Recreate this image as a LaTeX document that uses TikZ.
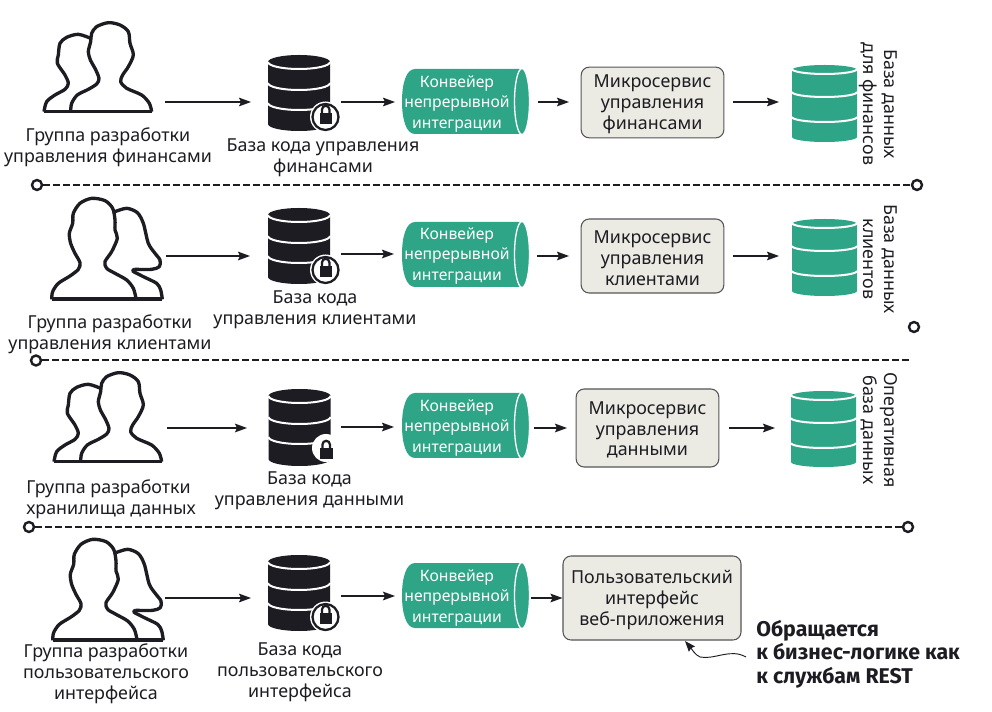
\documentclass[tikz,border=0pt]{standalone}
\usepackage{fontspec}
\setmainfont{Noto Sans}
\newfontfamily\calloutfont{Fira Sans}
\usetikzlibrary{arrows.meta,shapes.geometric}
\definecolor{tealc}{HTML}{2DA586}
\definecolor{boxc}{HTML}{EBEAE3}
\definecolor{inkc}{HTML}{1C1C22}
\newcommand{\menicon}[2]{%
\begin{scope}[shift={(#1,#2)}]
\begin{scope}[x=0.25pt,y=-0.25pt,line width=2.5pt,draw=inkc,line join=round]
\draw plot[smooth,tension=.5] coordinates {(212,335)(215,310)(232,285)(265,268)(290,252)(297,235)(285,205)(272,182)(265,155)(272,125)(275,100)(290,80)(325,68)(360,75)(385,95)(390,130)(400,165)(385,200)(368,225)(362,245)(380,265)(425,285)(448,310)(455,335)};
\draw plot[smooth,tension=.5] coordinates {(132,335)(140,305)(165,285)(195,268)(205,250)(195,225)(172,190)(175,165)(180,130)(200,112)(235,103)(272,115)};
\draw (132,335)--(455,335);
\end{scope}\end{scope}}
\newcommand{\womanicon}[2]{%
\begin{scope}[shift={(#1,#2)}]
\begin{scope}[x=0.25pt,y=-0.25pt,line width=2.5pt,draw=inkc,line join=round]
\draw plot[smooth,tension=.5] coordinates {(155,328)(158,305)(175,280)(210,258)(235,238)(240,218)(225,190)(212,160)(208,130)(218,100)(220,70)(240,40)(275,25)(315,32)(338,55)(345,90)(345,120)(352,145)(335,185)(315,215)(320,235)(345,250)(380,270)(400,295)(408,325)};
\draw plot[smooth,tension=.5] coordinates {(345,65)(380,55)(412,68)(430,100)(445,160)(465,190)(480,210)(478,230)(455,238)(405,238)};
\draw plot[smooth,tension=.5] coordinates {(405,238)(398,243)(430,260)(470,280)(482,300)(487,328)};
\draw[line width=3pt] (155,328)--(487,328);
\end{scope}\end{scope}}
% x centre, y top, half width, height, colour, cap radius, band offsets, extra
\newcommand{\dbstack}[8]{%
\begin{scope}[shift={(#1,#2)}]
\fill[#5] (-#3,#6) arc[x radius=#3,y radius=#6,start angle=180,end angle=360] -- (#3,{#4-#6}) arc[x radius=#3,y radius=#6,start angle=0,end angle=180] -- cycle;
\foreach \yy in {#7}{
\draw[white,line width=1.5pt] (-#3,\yy) arc[x radius=#3,y radius=#6,start angle=180,end angle=0];}
#8
\end{scope}}
\newcommand{\lockbody}{%
\fill[inkc] (20.5,62) rectangle (33,73);
\draw[inkc,line width=1.7pt] (23,62) -- (23,58.5) arc[radius=3.7,start angle=180,end angle=360] -- (30.5,62);}
\newcommand{\lockmark}{%
\fill[white] (26.5,62) circle (15.5);
\fill[white,draw=inkc,line width=1.7pt] (26.5,62) circle (13);
\begin{scope}[shift={(0,-4)}]\lockbody\end{scope}}
\newcommand{\lockbare}{%
\begin{scope}[shift={(0,-3)}]
\fill[white] (26.5,62) circle (14);\lockbody
\end{scope}}
\newcommand{\pipe}[2]{%
\begin{scope}[shift={(#1,#2)}]
\fill[tealc] (13,0) -- (120,0) -- (120,65) -- (13,65) .. controls (4,65) and (0,50) .. (0,32.5) .. controls (0,15) and (4,0) .. (13,0) -- cycle;
\fill[tealc,draw=white,line width=1pt] (120,32.5) ellipse (7.5 and 33);
\end{scope}}
\tikzset{
 lbl/.style={font=\fontsize{13.4pt}{15.6pt}\selectfont,text=inkc,align=center,inner sep=0pt},
 mlbl/.style={lbl,yshift=-1.5pt},
 wlbl/.style={font=\fontsize{11.8pt}{15.4pt}\selectfont,text=white,align=center,inner sep=0pt,yshift=-1.5pt},
 svc/.style={draw=inkc!75,fill=boxc,line width=.8pt,rounded corners=6pt,inner sep=0pt},
 arr/.style={draw=inkc,line width=.9pt,-{Stealth[length=9pt,width=6.5pt,inset=1.5pt]}},
 sep/.style={draw=inkc,line width=1.5pt,dash pattern=on 5pt off 2.5pt},
 ringn/.style={circle,draw=inkc,line width=1.8pt,fill=white,minimum size=7.5pt,inner sep=0pt},
}
\begin{document}
\begin{tikzpicture}[x=0.75pt,y=-0.75pt]
\useasboundingbox (0,0) rectangle (992,712);
% Row 1
\menicon{0}{0}
\node[mlbl] (t1) at (108,145.5) {Группа разработки\\управления финансами};
\dbstack{299}{55}{31}{76}{inkc}{7}{7,28,48}{\lockmark}
\node[mlbl] (c1) at (323,156) {База кода управления\\финансами};
\pipe{402}{69}
\node[wlbl] (p1) at (457,102) {Конвейер\\непрерывной\\интеграции};
\node[svc,minimum width=107pt,minimum height=53pt] (m1) at (652.5,102.5) {};
\node[mlbl] (l1) at (m1) {Микросервис\\управления\\финансами};
\dbstack{824.5}{65}{32.5}{77}{tealc}{5}{4,27,52}{}
\node[lbl,rotate=-90] (d1) at (878,104) {База данных\\для финансов};
\coordinate (a1) at (165,102); \coordinate (b1) at (251,102);
\coordinate (a2) at (341,102); \coordinate (b2) at (395,102);
\coordinate (a3) at (538,102); \coordinate (b3) at (569,102);
\coordinate (a4) at (733,102); \coordinate (b4) at (779,102);
\draw[arr] (a1)--(b1); \draw[arr] (a2)--(b2); \draw[arr] (a3)--(b3); \draw[arr] (a4)--(b4);
\node[ringn] (s1a) at (37,185) {}; \node[ringn] (s1b) at (917,185) {};
\draw[sep] (s1a)--(s1b);
% Row 2
\womanicon{0}{190}
\node[mlbl] (t2) at (110,332) {Группа разработки\\управления клиентами};
\dbstack{299}{208}{31}{76}{inkc}{7}{7,28,48}{\lockmark}
\node[mlbl] (c2) at (315,308) {База кода\\управления клиентами};
\pipe{402}{222}
\node[wlbl] (p2) at (457,254) {Конвейер\\непрерывной\\интеграции};
\node[svc,minimum width=107pt,minimum height=55.5pt] (m2) at (652.5,256) {};
\node[mlbl] (l2) at (m2) {Микросервис\\управления\\клиентами};
\dbstack{824.5}{219}{32.5}{77}{tealc}{5}{4,27,52}{}
\node[lbl,rotate=-90] (d2) at (880,259) {База данных\\клиентов};
\coordinate (a5) at (166,256); \coordinate (b5) at (250,256);
\coordinate (a6) at (341,254); \coordinate (b6) at (394,254);
\coordinate (a7) at (537,256); \coordinate (b7) at (569,256);
\coordinate (a8) at (733,256); \coordinate (b8) at (779,256);
\draw[arr] (a5)--(b5); \draw[arr] (a6)--(b6); \draw[arr] (a7)--(b7); \draw[arr] (a8)--(b8);
\node[ringn] (s2a) at (36,360.5) {};
\node[ringn] (s2b) at (914,327) {};
\coordinate (s2r) at (911,360.5);
\draw[sep] (s2a)--(s2r);
% Row 3
\menicon{10}{350}
\node[mlbl,align=left,anchor=west] (t3) at (26,497) {Группа разработки\\хранилища данных};
\dbstack{299.5}{389}{31}{77}{inkc}{7}{7,28,48}{\lockbare}
\node[mlbl] (c3) at (309.5,489) {База кода\\управления данными};
\pipe{402}{393}
\node[wlbl] (p3) at (457,426) {Конвейер\\непрерывной\\интеграции};
\node[svc,minimum width=107pt,minimum height=58.5pt] (m3) at (647.5,428) {};
\node[mlbl] (l3) at (m3) {Микросервис\\управления\\данными};
\dbstack{823.5}{391}{32.5}{76}{tealc}{5}{4,27,52}{}
\node[lbl,rotate=-90] (d3) at (879,430) {Оперативная\\база данных};
\coordinate (a9) at (167,428); \coordinate (b9) at (247,428);
\coordinate (a10) at (341,427); \coordinate (b10) at (394,427);
\coordinate (a11) at (534,428); \coordinate (b11) at (567,428);
\coordinate (a12) at (729,428); \coordinate (b12) at (775,428);
\draw[arr] (a9)--(b9); \draw[arr] (a10)--(b10); \draw[arr] (a11)--(b11); \draw[arr] (a12)--(b12);
\node[ringn] (s3a) at (29,527) {}; \node[ringn] (s3b) at (908,527) {};
\draw[sep] (s3a)--(s3b);
% Row 4
\womanicon{1}{531}
\node[mlbl] (t4) at (106,672) {Группа разработки\\пользовательского\\интерфейса};
\dbstack{299}{555}{31}{76}{inkc}{7}{7,28,48}{\lockmark}
\node[mlbl] (c4) at (300,670) {База кода\\пользовательского\\интерфейса};
\pipe{402}{563}
\node[wlbl] (p4) at (457,596) {Конвейер\\непрерывной\\интеграции};
\node[svc,minimum width=133.5pt,minimum height=63pt] (m4) at (652,598) {};
\node[mlbl] (l4) at (m4) {Пользовательский\\интерфейс\\веб-приложения};
\coordinate (a13) at (165,598); \coordinate (b13) at (251,598);
\coordinate (a14) at (341,596); \coordinate (b14) at (395,596);
\coordinate (a15) at (531,598);
\draw[arr] (a13)--(b13); \draw[arr] (a14)--(b14); \draw[arr] (a15)--(m4.west);
\node[font=\fontsize{16pt}{17.6pt}\selectfont\calloutfont\bfseries,text=inkc,align=left,inner sep=0pt,anchor=west] (n4) at (756,654) {Обращается\\к бизнес-логике как\\к службам REST};
\coordinate (n4a) at (746,657); \coordinate (n4b) at (685,641);
\draw[inkc,line width=.7pt,-{Stealth[length=8pt,width=6pt,inset=1pt]}] (n4a) .. controls (730,648) and (715,660) .. (700,657) .. controls (695,655) and (691,648) .. (n4b);
\end{tikzpicture}
\end{document}
